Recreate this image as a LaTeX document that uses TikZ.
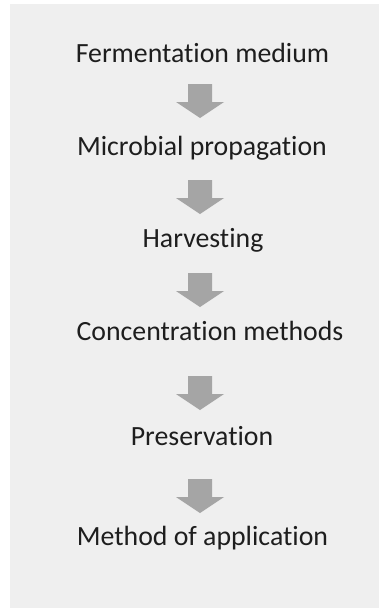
\documentclass[tikz,border=0pt]{standalone}
\usepackage{fontspec}
\setmainfont{Carlito}[RawFeature={-liga;-clig;-dlig;-calt;-hlig}]
\definecolor{panelgray}{HTML}{EFEFEF}
\definecolor{arrowgray}{HTML}{A5A5A5}
\definecolor{textdark}{HTML}{1E1E1E}
% keeps "t" and "i" as separate glyphs
\newcommand\tisep{t\kern0pt i}
\tikzset{
  stage/.style={anchor=base, inner sep=0pt, text=textdark,
    font=\fontsize{27.8}{30}\selectfont},
  % block arrow pointing down, centred on its origin (y grows downward)
  pics/downarrow/.style={code={
    \fill[arrowgray] (-12,-17) -- (12,-17) -- (12,1) -- (24,1)
      -- (0,17) -- (-24,1) -- (-12,1) -- cycle;
  }},
}
\begin{document}
\begin{tikzpicture}[x=1pt, y=-1pt]
  \useasboundingbox (0,0) rectangle (382,610);
  % light panel behind the flow
  \fill[panelgray] (10,4) rectangle (379,608);

  % stages of the process
  \node[stage] (s1) at (202.5,63)  {Fermenta\tisep on medium};
  \node[stage] (s2) at (202,155)   {Microbial propaga\tisep on};
  \node[stage] (s3) at (203,247)   {Harvesting};
  \node[stage] (s4) at (210,340)   {Concentra\tisep on methods};
  \node[stage] (s5) at (202,445)   {Preserva\tisep on};
  \node[stage] (s6) at (202.5,545) {Method of applica\tisep on};

  % block arrows between consecutive stages
  \pic (a1) at (200,101) {downarrow};
  \pic (a2) at (200,197) {downarrow};
  \pic (a3) at (200,290) {downarrow};
  \pic (a4) at (200,393) {downarrow};
  \pic (a5) at (200,496) {downarrow};
\end{tikzpicture}
\end{document}
